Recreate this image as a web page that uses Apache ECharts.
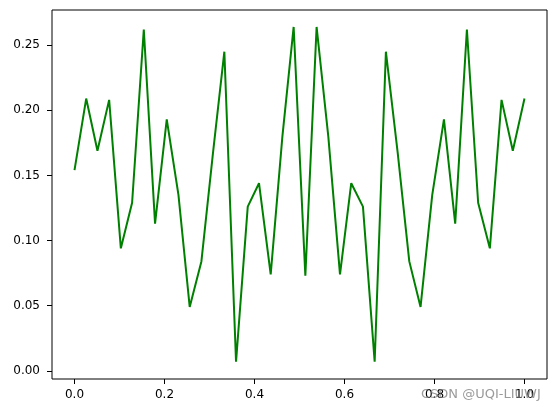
<!DOCTYPE html>
<html>
<head>
<meta charset="utf-8">
<script src="https://cdn.jsdelivr.net/npm/echarts@6/dist/echarts.min.js"></script>
<style>
html, body { margin: 0; padding: 0; background: #fff; }
#main { width: 556px; height: 413px; }
</style>
</head>
<body>
<div id="main"></div>
<script>
var LINE_COLOR = "#008000";
var FONT = "DejaVu Sans";

// x positions (0..1, 40 samples)
var xValues = [0, 0.026, 0.051, 0.077, 0.103, 0.128, 0.154, 0.179, 0.205, 0.231,
	0.256, 0.282, 0.308, 0.333, 0.359, 0.385, 0.41, 0.436, 0.462, 0.487,
	0.513, 0.538, 0.564, 0.59, 0.615, 0.641, 0.667, 0.692, 0.718, 0.744,
	0.769, 0.795, 0.821, 0.846, 0.872, 0.897, 0.923, 0.949, 0.974, 1];
var yValues = [0.154, 0.209, 0.169, 0.208, 0.094, 0.129, 0.262, 0.113, 0.193, 0.135,
	0.049, 0.084, 0.168, 0.245, 0.007, 0.126, 0.144, 0.074, 0.180, 0.264,
	0.073, 0.264, 0.180, 0.074, 0.144, 0.126, 0.007, 0.245, 0.168, 0.084,
	0.049, 0.135, 0.193, 0.113, 0.262, 0.129, 0.094, 0.208, 0.169, 0.209];
var xTicks = [0, 0.2, 0.4, 0.6, 0.8, 1.0];
var yTicks = [0, 0.05, 0.1, 0.15, 0.2, 0.25];
var watermark = "CSDN @UQI-LIUWJ";

var chart = echarts.init(document.getElementById("main"));
var option = {
	animation: false,
	backgroundColor: "#fff",
	grid: {
		left: 52,
		right: 9,
		top: 10,
		bottom: 34,
		show: true,
		borderColor: "#000",
		borderWidth: 1,
		containLabel: false,
		outerBoundsMode: "none"
	},
	xAxis: {
		type: "value",
		position: "bottom",
		min: -0.05,
		max: 1.05,
		splitLine: { show: false },
		axisLine: { show: false, onZero: false },
		axisTick: {
			show: true,
			length: 5,
			customValues: xTicks,
			lineStyle: { color: "#000", width: 1 }
		},
		axisLabel: {
			customValues: xTicks,
			margin: 10,
			color: "#000",
			fontFamily: FONT,
			fontSize: 12,
			formatter: function(v) { return v.toFixed(1); }
		}
	},
	yAxis: {
		type: "value",
		position: "left",
		min: -0.0063,
		max: 0.2770,
		splitLine: { show: false },
		axisLine: { show: false, onZero: false },
		axisTick: {
			show: true,
			length: 5,
			customValues: yTicks,
			lineStyle: { color: "#000", width: 1 }
		},
		axisLabel: {
			customValues: yTicks,
			margin: 12,
			color: "#000",
			fontFamily: FONT,
			fontSize: 12,
			formatter: function(v) { return v.toFixed(2); }
		}
	},
	series: [
		{
			type: "line",
			data: xValues.map(function(x, i) { return [x, yValues[i]]; }),
			symbol: "none",
			lineStyle: { color: LINE_COLOR, width: 2 }
		}
	],
	graphic: [
		{
			type: "text",
			left: 421,
			top: 388,
			z: 100,
			style: {
				text: watermark,
				fill: "rgba(120,120,120,0.75)",
				font: "13px " + FONT
			}
		}
	]
};
chart.setOption(option);
</script>
</body>
</html>
